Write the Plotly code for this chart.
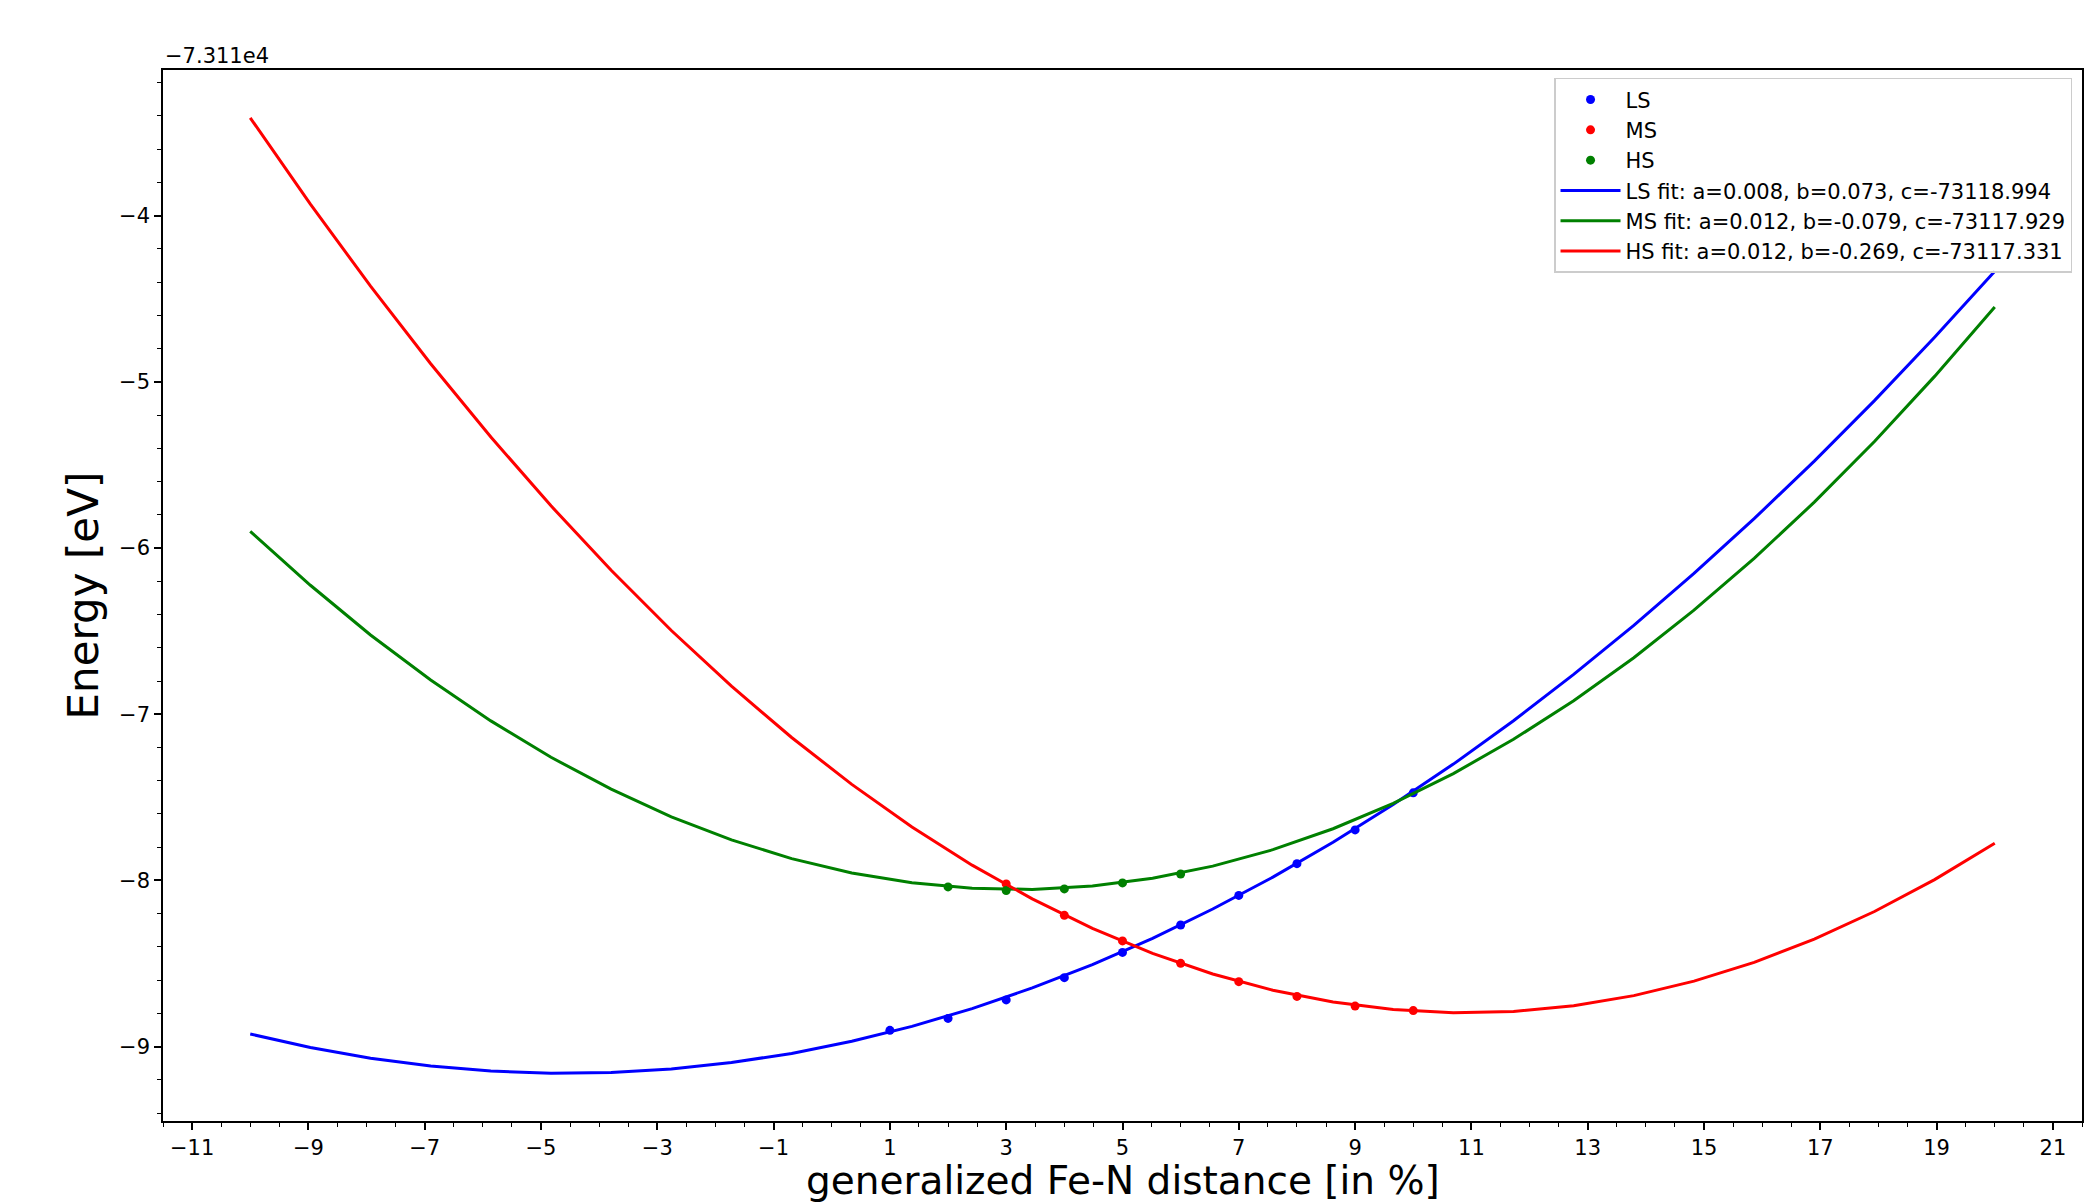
import plotly.graph_objects as go

# Energies are stored relative to the axis offset shown on the chart (-7.311e4 eV)
ENERGY_OFFSET_LABEL = "\u22127.311e4"

# Measured points (x = generalized Fe-N distance in %)
ls_x = [1, 2, 3, 4, 5, 6, 7, 8, 9, 10]
ls_e = [-8.902, -8.830, -8.719, -8.585, -8.433, -8.268, -8.090, -7.899, -7.696, -7.473]

ms_x = [3, 4, 5, 6, 7, 8, 9, 10]
ms_e = [-8.021, -8.210, -8.364, -8.499, -8.609, -8.698, -8.756, -8.783]

hs_x = [2, 3, 4, 5, 6]
hs_e = [-8.039, -8.061, -8.051, -8.015, -7.961]

# Fit curves, sampled at the vertices visible on the chart
fit_x = [-10.0, -8.9655, -7.9310, -6.8966, -5.8621, -4.8276, -3.7931, -2.7586,
         -1.7241, -0.6897, 0.3448, 1.3793, 2.4138, 3.4483, 4.4828, 5.5172,
         6.5517, 7.5862, 8.6207, 9.6552, 10.6897, 11.7241, 12.7586, 13.7931,
         14.8276, 15.8621, 16.8966, 17.9310, 18.9655, 20.0]

ls_fit_e = [-8.924, -9.005, -9.070, -9.117, -9.147, -9.160, -9.156, -9.135,
            -9.096, -9.041, -8.968, -8.878, -8.771, -8.647, -8.506, -8.348,
            -8.172, -7.980, -7.770, -7.543, -7.300, -7.039, -6.760, -6.465,
            -6.153, -5.823, -5.477, -5.113, -4.732, -4.334]

ms_fit_e = [-5.899, -6.224, -6.523, -6.794, -7.040, -7.259, -7.451, -7.617,
            -7.756, -7.869, -7.955, -8.014, -8.047, -8.054, -8.034, -7.987,
            -7.914, -7.815, -7.689, -7.536, -7.357, -7.151, -6.919, -6.660,
            -6.374, -6.062, -5.724, -5.359, -4.967, -4.549]

hs_fit_e = [-3.411, -3.931, -4.424, -4.891, -5.332, -5.746, -6.134, -6.496,
            -6.831, -7.140, -7.422, -7.678, -7.908, -8.111, -8.288, -8.439,
            -8.563, -8.661, -8.732, -8.777, -8.796, -8.788, -8.754, -8.693,
            -8.606, -8.493, -8.353, -8.187, -7.995, -7.776]

fit_labels = [
    "LS fit: a=0.008, b=0.073, c=-73118.994",
    "MS fit: a=0.012, b=-0.079, c=-73117.929",
    "HS fit: a=0.012, b=-0.269, c=-73117.331",
]

BLUE = "#0000ff"
RED = "#ff0000"
GREEN = "#008000"
FONT = "DejaVu Sans"

fig = go.Figure()
fig.add_trace(go.Scatter(x=ls_x, y=ls_e, mode="markers", name="LS",
                         marker=dict(color=BLUE, size=9)))
fig.add_trace(go.Scatter(x=ms_x, y=ms_e, mode="markers", name="MS",
                         marker=dict(color=RED, size=9)))
fig.add_trace(go.Scatter(x=hs_x, y=hs_e, mode="markers", name="HS",
                         marker=dict(color=GREEN, size=9)))
fig.add_trace(go.Scatter(x=fit_x, y=ls_fit_e, mode="lines", name=fit_labels[0],
                         line=dict(color=BLUE, width=3)))
fig.add_trace(go.Scatter(x=fit_x, y=ms_fit_e, mode="lines", name=fit_labels[1],
                         line=dict(color=GREEN, width=3)))
fig.add_trace(go.Scatter(x=fit_x, y=hs_fit_e, mode="lines", name=fit_labels[2],
                         line=dict(color=RED, width=3)))

axis_common = dict(
    showgrid=False, zeroline=False, showline=True, linecolor="black",
    linewidth=1.6, mirror=True, ticks="outside", tickcolor="black",
    tickwidth=1.5, ticklen=7,
    tickfont=dict(family=FONT, size=21, color="black"),
)

fig.update_xaxes(range=[-11.5, 21.5], tickmode="linear", tick0=-11, dtick=2,
                 minor=dict(tick0=-11, dtick=0.5, ticklen=4, tickwidth=1.2,
                            ticks="outside", tickcolor="black", showgrid=False),
                 **axis_common)
fig.update_yaxes(range=[-9.4475, -3.1235], tickmode="linear", tick0=-9, dtick=1,
                 minor=dict(tick0=-9, dtick=0.2, ticklen=4, tickwidth=1.2,
                            ticks="outside", tickcolor="black", showgrid=False),
                 **axis_common)

fig.update_layout(
    width=2099, height=1204, autosize=False,
    margin=dict(l=163, r=17, t=70, b=83, pad=0),
    paper_bgcolor="white", plot_bgcolor="white",
    font=dict(family=FONT, color="black"),
    legend=dict(x=0.9948, y=0.9925, xanchor="right", yanchor="top",
                bgcolor="rgba(255,255,255,0.8)", bordercolor="#cccccc",
                borderwidth=1.5, font=dict(family=FONT, size=21, color="black"),
                itemwidth=60),
    annotations=[
        dict(text=ENERGY_OFFSET_LABEL, xref="paper", yref="paper", x=0, y=1,
             xanchor="left", yanchor="bottom", showarrow=False,
             font=dict(family=FONT, size=21, color="black")),
        dict(text="Energy [eV]", xref="paper", yref="paper", x=-0.0412, y=0.5,
             xanchor="center", yanchor="middle", textangle=-90, showarrow=False,
             font=dict(family=FONT, size=42, color="black")),
        dict(text="generalized Fe-N distance [in %]", xref="paper", yref="paper",
             x=0.5, y=-0.0790, xanchor="center", yanchor="bottom", showarrow=False,
             borderpad=0, font=dict(family=FONT, size=39, color="black")),
    ],
    showlegend=True,
)

fig.write_html("out.html", config={"displayModeBar": False},
               post_script="document.body.style.margin='0';")
